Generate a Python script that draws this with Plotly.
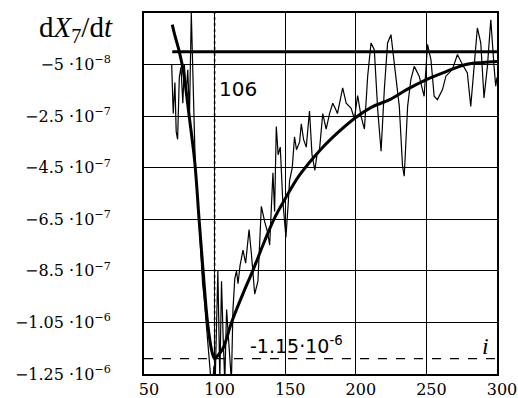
import plotly.graph_objects as go

# ---- data (values in units of 1e-6) ----
thin_x = [69.6, 70.7, 71.9, 72.8, 73.8, 75.0, 76.2, 77.5, 78.6, 79.8, 81.0, 82.2, 83.5, 84.5,
          85.5, 86.5, 87.5, 88.5, 89.5, 90.5, 91.5, 92.5, 93.5, 94.5, 95.5, 96.5, 97.5, 98.5,
          99.5, 100.5, 101.5, 102.3, 103.7, 104.9, 106.0, 107.2, 108.5, 110.0, 111.9, 113.0,
          114.3, 115.5, 116.6, 118.0, 120.1, 122.0, 124.4, 126.0, 128.4, 130.7, 133.1, 135.5,
          137.5, 139.0, 140.5, 141.3, 142.5, 143.7, 145.0, 146.5, 148.2, 150.5, 152.0, 153.1,
          155.0, 156.6, 158.0, 160.2, 161.4, 163.0, 164.9, 167.2, 169.0, 171.0, 172.5, 174.3,
          176.6, 179.0, 181.4, 183.7, 185.5, 187.0, 190.7, 193.2, 196.7, 199.0, 201.3, 203.7,
          206.1, 208.4, 210.8, 213.1, 215.5, 217.9, 220.2, 222.5, 224.9, 227.3, 230.8, 233.1,
          234.3, 236.7, 239.0, 241.4, 244.9, 248.4, 250.8, 253.2, 255.5, 257.8, 261.4, 263.8,
          268.4, 272.0, 275.5, 279.0, 281.4, 283.8, 286.1, 288.5, 290.8, 293.2, 295.6, 297.9,
          299.1, 300.0]
thin_y = [-0.05, -0.24, -0.12, -0.31, -0.34, -0.10, -0.06, -0.20, -0.05, -0.17, -0.07, -0.25, 0.15, -0.05,
          -0.30, -0.48, -0.52, -0.62, -0.72, -0.80, -0.90, -0.95, -1.02, -1.10, -1.14, -1.22, -1.28, -1.30,
          -1.22, -1.26, -1.00, -0.85, -1.27, -0.89, -1.10, -1.28, -1.00, -1.15, -1.28, -1.00,
          -0.88, -0.85, -0.90, -0.83, -0.77, -0.82, -0.69, -0.78, -0.94, -0.89, -0.60, -0.66,
          -0.70, -0.75, -0.60, -0.47, -0.62, -0.29, -0.40, -0.37, -0.57, -0.72, -0.60, -0.50,
          -0.45, -0.33, -0.38, -0.35, -0.28, -0.34, -0.37, -0.23, -0.40, -0.46, -0.40, -0.38,
          -0.24, -0.30, -0.24, -0.20, -0.22, -0.24, -0.14, -0.20, -0.22, -0.26, -0.17, -0.25,
          -0.30, -0.095, 0.034, 0.008, -0.224, -0.386, -0.147, 0.034, 0.066, -0.057, -0.212, -0.444,
          -0.483, -0.212, -0.108, -0.057, -0.095, -0.173, 0.028, -0.031, -0.173, -0.186, -0.147, -0.095,
          -0.069, -0.011, -0.05, -0.082, -0.212, -0.057, 0.092, 0.034, -0.179, -0.057, 0.124, -0.057,
          -0.134, -0.10]

fit_x = [70, 72, 75, 78, 82, 86, 89, 92, 95, 98, 100, 102, 106, 112, 120, 127, 135, 142, 150,
         160, 175, 188, 200, 212, 224, 236, 250, 264, 278, 290, 300]
fit_y = [0.105, 0.06, 0.0, -0.08, -0.25, -0.43, -0.65, -0.86, -1.05, -1.16, -1.19, -1.18, -1.15,
         -1.05, -0.94, -0.85, -0.74, -0.65, -0.57, -0.48, -0.38, -0.31, -0.255, -0.213, -0.186,
         -0.147, -0.108, -0.077, -0.05, -0.042, -0.038]

zero_x = [70, 300]
zero_y = [0.0, 0.0]

marker_x = 100
marker_y = -1.19
marker_x_label = "106"
marker_y_label = "-1.15·10<sup>-6</sup>"

x_ticks = [50, 100, 150, 200, 250, 300]
y_ticks = [-0.05, -0.25, -0.45, -0.65, -0.85, -1.05, -1.25]
y_tick_text = ["−5 ·10<sup>−8</sup>", "−2.5 ·10<sup>−7</sup>", "−4.5 ·10<sup>−7</sup>",
               "−6.5 ·10<sup>−7</sup>", "−8.5 ·10<sup>−7</sup>", "−1.05 ·10<sup>−6</sup>",
               "−1.25 ·10<sup>−6</sup>"]
x_range = [50, 300]
y_range = [-1.25, 0.15]

fig = go.Figure()
fig.add_trace(go.Scatter(x=thin_x, y=thin_y, mode="lines",
                         line=dict(color="black", width=1.2), cliponaxis=True))
fig.add_trace(go.Scatter(x=fit_x, y=fit_y, mode="lines", line_shape="spline",
                         line=dict(color="black", width=3)))
fig.add_trace(go.Scatter(x=zero_x, y=zero_y, mode="lines",
                         line=dict(color="black", width=3)))

fig.add_shape(type="line", xref="x", yref="paper", x0=marker_x, x1=marker_x, y0=0, y1=1,
              line=dict(color="black", width=1.5, dash="dot"))
fig.add_shape(type="line", xref="paper", yref="y", x0=0, x1=1, y0=marker_y, y1=marker_y,
              line=dict(color="black", width=1.2, dash="dash"))

fig.add_annotation(x=marker_x, y=-0.143, xref="x", yref="y", text=marker_x_label,
                   showarrow=False, xanchor="left", yanchor="middle", xshift=2,
                   font=dict(family="DejaVu Sans", size=20, color="black"))
fig.add_annotation(x=123.7, y=-1.136, xref="x", yref="y", text=marker_y_label,
                   showarrow=False, xanchor="left", yanchor="middle",
                   font=dict(family="DejaVu Sans", size=19, color="black"))
fig.add_annotation(x=291.5, y=-1.143, xref="x", yref="y", text="<i>i</i>",
                   showarrow=False, xanchor="center", yanchor="middle",
                   font=dict(family="Liberation Serif", size=24, color="black"))
fig.add_annotation(x=-0.082, y=0.955, xref="paper", yref="paper",
                   text="d<i>X</i><sub>7</sub>/d<i>t</i>",
                   showarrow=False, xanchor="right", yanchor="middle",
                   font=dict(family="Liberation Serif", size=29, color="black"))

fig.update_xaxes(range=x_range, tickvals=x_ticks, showgrid=True, gridcolor="black",
                 gridwidth=1.2, showline=True, linecolor="black", linewidth=1.6, mirror=True,
                 zeroline=False, ticks="", ticklabelshift=5, ticklabelstandoff=0,
                 automargin=False, ticklabeloverflow="allow",
                 tickfont=dict(family="DejaVu Serif", size=16, color="black"))
fig.update_yaxes(range=y_range, tickvals=y_ticks, ticktext=y_tick_text, showgrid=True,
                 gridcolor="black", gridwidth=1.2, showline=True, linecolor="black",
                 linewidth=1.6, mirror=True, zeroline=False, ticks="", ticklabelstandoff=28,
                 automargin=False, ticklabeloverflow="allow",
                 tickfont=dict(family="DejaVu Serif", size=16, color="black"))

fig.update_layout(width=518, height=398, margin=dict(l=144, r=21, t=13, b=24),
                  paper_bgcolor="white", plot_bgcolor="white", showlegend=False)

fig.write_html("out.html")
